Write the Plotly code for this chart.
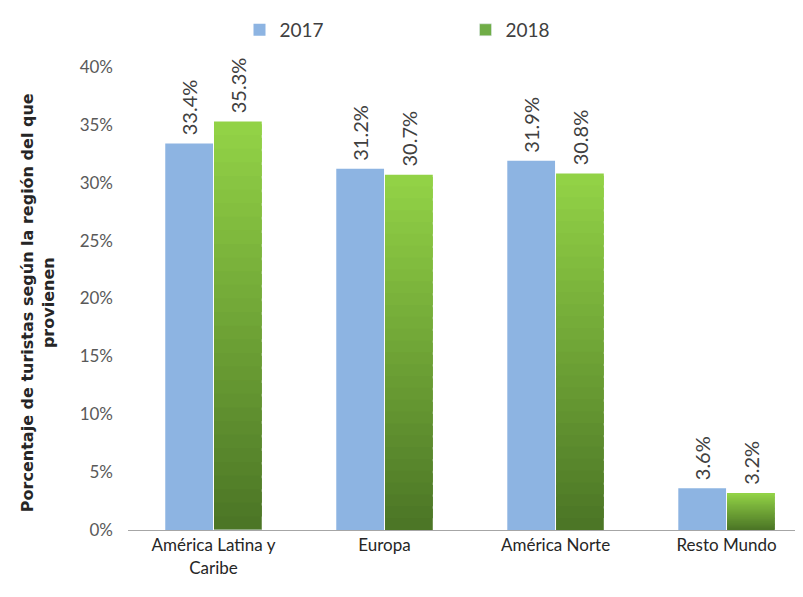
import plotly.graph_objects as go

regiones = ['América Latina y<br>Caribe', 'Europa', 'América Norte', 'Resto Mundo']
valores_2017 = [33.4, 31.2, 31.9, 3.6]
valores_2018 = [35.3, 30.7, 30.8, 3.2]

azul = '#8DB4E2'
verde_claro = (146, 210, 70)
verde_oscuro = (76, 118, 38)
n_bandas = 30

fig = go.Figure()

# serie 2017, color plano
fig.add_trace(go.Bar(
    x=regiones, y=valores_2017, name='2017',
    marker=dict(color=azul, line=dict(width=0)),
    offsetgroup='a',
    text=[f'\u00a0{v}%' for v in valores_2017], textposition='outside',
    textangle=-90, textfont=dict(size=20, color='#404040'),
    constraintext='none', cliponaxis=False,
))

# serie 2018 con degradado vertical: bandas apiladas de oscuro a claro
for k in range(n_bandas):
    t = k / (n_bandas - 1)
    r, g, b = [round(o + (c - o) * t) for o, c in zip(verde_oscuro, verde_claro)]
    color = f'rgb({r},{g},{b})'
    ultima = k == n_bandas - 1
    fig.add_trace(go.Bar(
        x=regiones,
        y=[v / n_bandas * (1 if ultima else 1.8) for v in valores_2018],
        base=[v * k / n_bandas for v in valores_2018],
        name='2018',
        marker=dict(color=color, line=dict(width=0)),
        offsetgroup='b',
        showlegend=False,
        text=[f'\u00a0{v}%' for v in valores_2018] if ultima else None,
        textposition='outside' if ultima else 'none',
        textangle=-90, textfont=dict(size=20, color='#404040'),
        constraintext='none', cliponaxis=False,
    ))

# entrada de leyenda para 2018
fig.add_trace(go.Bar(
    x=[regiones[0]], y=[0], name='2018', offsetgroup='b',
    marker=dict(color='#70AD47'), showlegend=True, hoverinfo='skip',
))

# titulo del eje y como anotacion para fijar su posicion
fig.add_annotation(
    text='<b>Porcentaje de turistas según la región del que<br>provienen</b>',
    xref='paper', yref='paper', x=-90 / 675, y=0.49,
    xanchor='center', yanchor='middle',
    textangle=-90, showarrow=False,
    font=dict(size=16, color='#262626', family='DejaVu Sans, sans-serif'),
)

# la pagina tiene 8px de margen en body: se compensa en tamano y margenes
fig.update_layout(
    width=795, height=589,
    margin=dict(l=120, r=0, t=59, b=67),
    paper_bgcolor='white', plot_bgcolor='white',
    barmode='group', bargap=0.43, bargroupgap=0.02,
    font=dict(family='Lato, Open Sans, sans-serif', size=17, color='#404040'),
    legend=dict(orientation='h', x=0.5, xanchor='center', y=1.08, yanchor='middle',
                font=dict(size=19, color='#404040'), entrywidth=181,
                tracegroupgap=0),
    xaxis=dict(range=[-0.5, 3.447], showline=True, linecolor='#A6A6A6', linewidth=1,
               ticks='', tickfont=dict(size=17, color='#262626'), showgrid=False,
               automargin=False),
    yaxis=dict(range=[0, 40], dtick=5, ticksuffix='%', showgrid=False,
               zeroline=False, showline=False, tickfont=dict(size=17, color='#595959'),
               ticklabelstandoff=14, automargin=False),
)

fig.write_html('out.html')
